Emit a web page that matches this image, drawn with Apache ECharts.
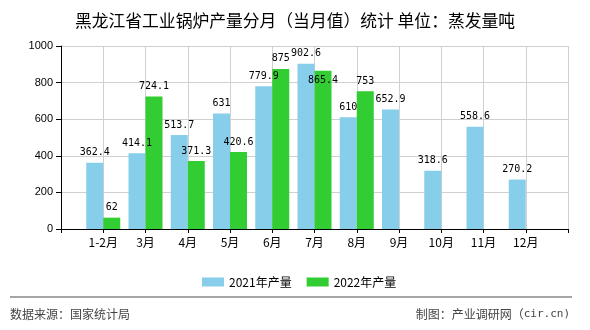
<!DOCTYPE html>
<html>
<head>
<meta charset="utf-8">
<script src="https://cdn.jsdelivr.net/npm/echarts@6/dist/echarts.min.js"></script>
<style>
html,body{margin:0;padding:0;background:#fff;}
#chart{width:590px;height:330px;}
</style>
</head>
<body>
<div id="chart"></div>
<script>
var titleText = '黑龙江省工业锅炉产量分月（当月值）统计 单位：蒸发量吨';
var categories = ['1-2月','3月','4月','5月','6月','7月','8月','9月','10月','11月','12月'];
var seriesNames = ['2021年产量','2022年产量'];
var values2021 = [362.4, 414.1, 513.7, 631, 779.9, 902.6, 610, 652.9, 318.6, 558.6, 270.2];
var values2022 = [62, 724.1, 371.3, 420.6, 875, 865.4, 753];
var yTicks = [0, 200, 400, 600, 800, 1000];
var sourceText = '数据来源：国家统计局';
var makerTextA = '制图：产业调研网（';
var makerTextB = 'cir.cn)';

// axis points: empty slot at each end, labels sit on the points
var axisCats = [''].concat(categories).concat(['']);
function pad(vals) {
  var out = [null];
  for (var i = 0; i < categories.length; i++) out.push(i < vals.length ? vals[i] : null);
  out.push(null);
  return out;
}
var labelStyle = {show: true, position: 'top', distance: 5, fontFamily: 'DejaVu Sans Mono', fontSize: 10, color: '#000'};

var d2022 = pad(values2022).map(function (v, i) {
  if (v === 865.4) return {value: v, label: {offset: [0, 20]}};
  return v;
});

var chart = echarts.init(document.getElementById('chart'), null, {renderer: 'canvas'});
chart.setOption({
  animation: false,
  backgroundColor: '#fff',
  title: {
    text: titleText, left: 'center', top: 7,
    textStyle: {fontSize: 16.8, fontWeight: 'normal', color: '#000', fontFamily: 'Noto Sans CJK SC'}
  },
  legend: {
    data: seriesNames, left: 197, top: 271, icon: 'rect', itemWidth: 22, itemHeight: 9, itemGap: 15,
    textStyle: {fontSize: 12, color: '#000', fontFamily: 'Noto Sans CJK SC'}
  },
  grid: {left: 61, right: 22, top: 46, bottom: 101, containLabel: false},
  xAxis: {
    type: 'category', data: axisCats, boundaryGap: false,
    axisLine: {lineStyle: {color: '#000', width: 1}},
    axisTick: {show: true, length: 4, lineStyle: {color: '#000'}},
    axisLabel: {interval: 0, margin: 7, fontSize: 12, color: '#000', fontFamily: 'Noto Sans CJK SC'},
    splitLine: {show: true, lineStyle: {color: '#d0d0d0', width: 1}}
  },
  yAxis: {
    type: 'value', min: yTicks[0], max: yTicks[yTicks.length - 1], interval: yTicks[1] - yTicks[0],
    axisLine: {show: true, lineStyle: {color: '#000', width: 1}},
    axisTick: {show: true, length: 5, lineStyle: {color: '#000'}},
    axisLabel: {fontSize: 11, color: '#000', margin: 8, fontFamily: 'Liberation Sans',
      formatter: function (v) { return String(v); }},
    splitLine: {show: true, lineStyle: {color: '#d0d0d0', width: 1}}
  },
  series: [
    {name: seriesNames[0], type: 'bar', data: pad(values2021), barWidth: 17, barGap: '0%',
     itemStyle: {color: '#87CEEB'}, label: labelStyle},
    {name: seriesNames[1], type: 'bar', data: d2022, barWidth: 17, barGap: '0%',
     itemStyle: {color: '#32CD32'}, label: labelStyle}
  ],
  graphic: [
    {type: 'line', shape: {x1: 10, y1: 297, x2: 572, y2: 297}, style: {stroke: '#888', lineWidth: 1.5}},
    {type: 'text', left: 10, top: 308, style: {text: sourceText, fontSize: 12, fill: '#444', fontFamily: 'Noto Sans CJK SC'}},
    {type: 'text', right: 20, top: 308, style: {
      text: '{a|' + makerTextA + '}{b|' + makerTextB + '}',
      rich: {
        a: {fontSize: 12, fill: '#444', fontFamily: 'Noto Sans CJK SC'},
        b: {fontSize: 11, fill: '#444', fontFamily: 'DejaVu Sans Mono'}
      }
    }}
  ]
});
</script>
</body>
</html>
